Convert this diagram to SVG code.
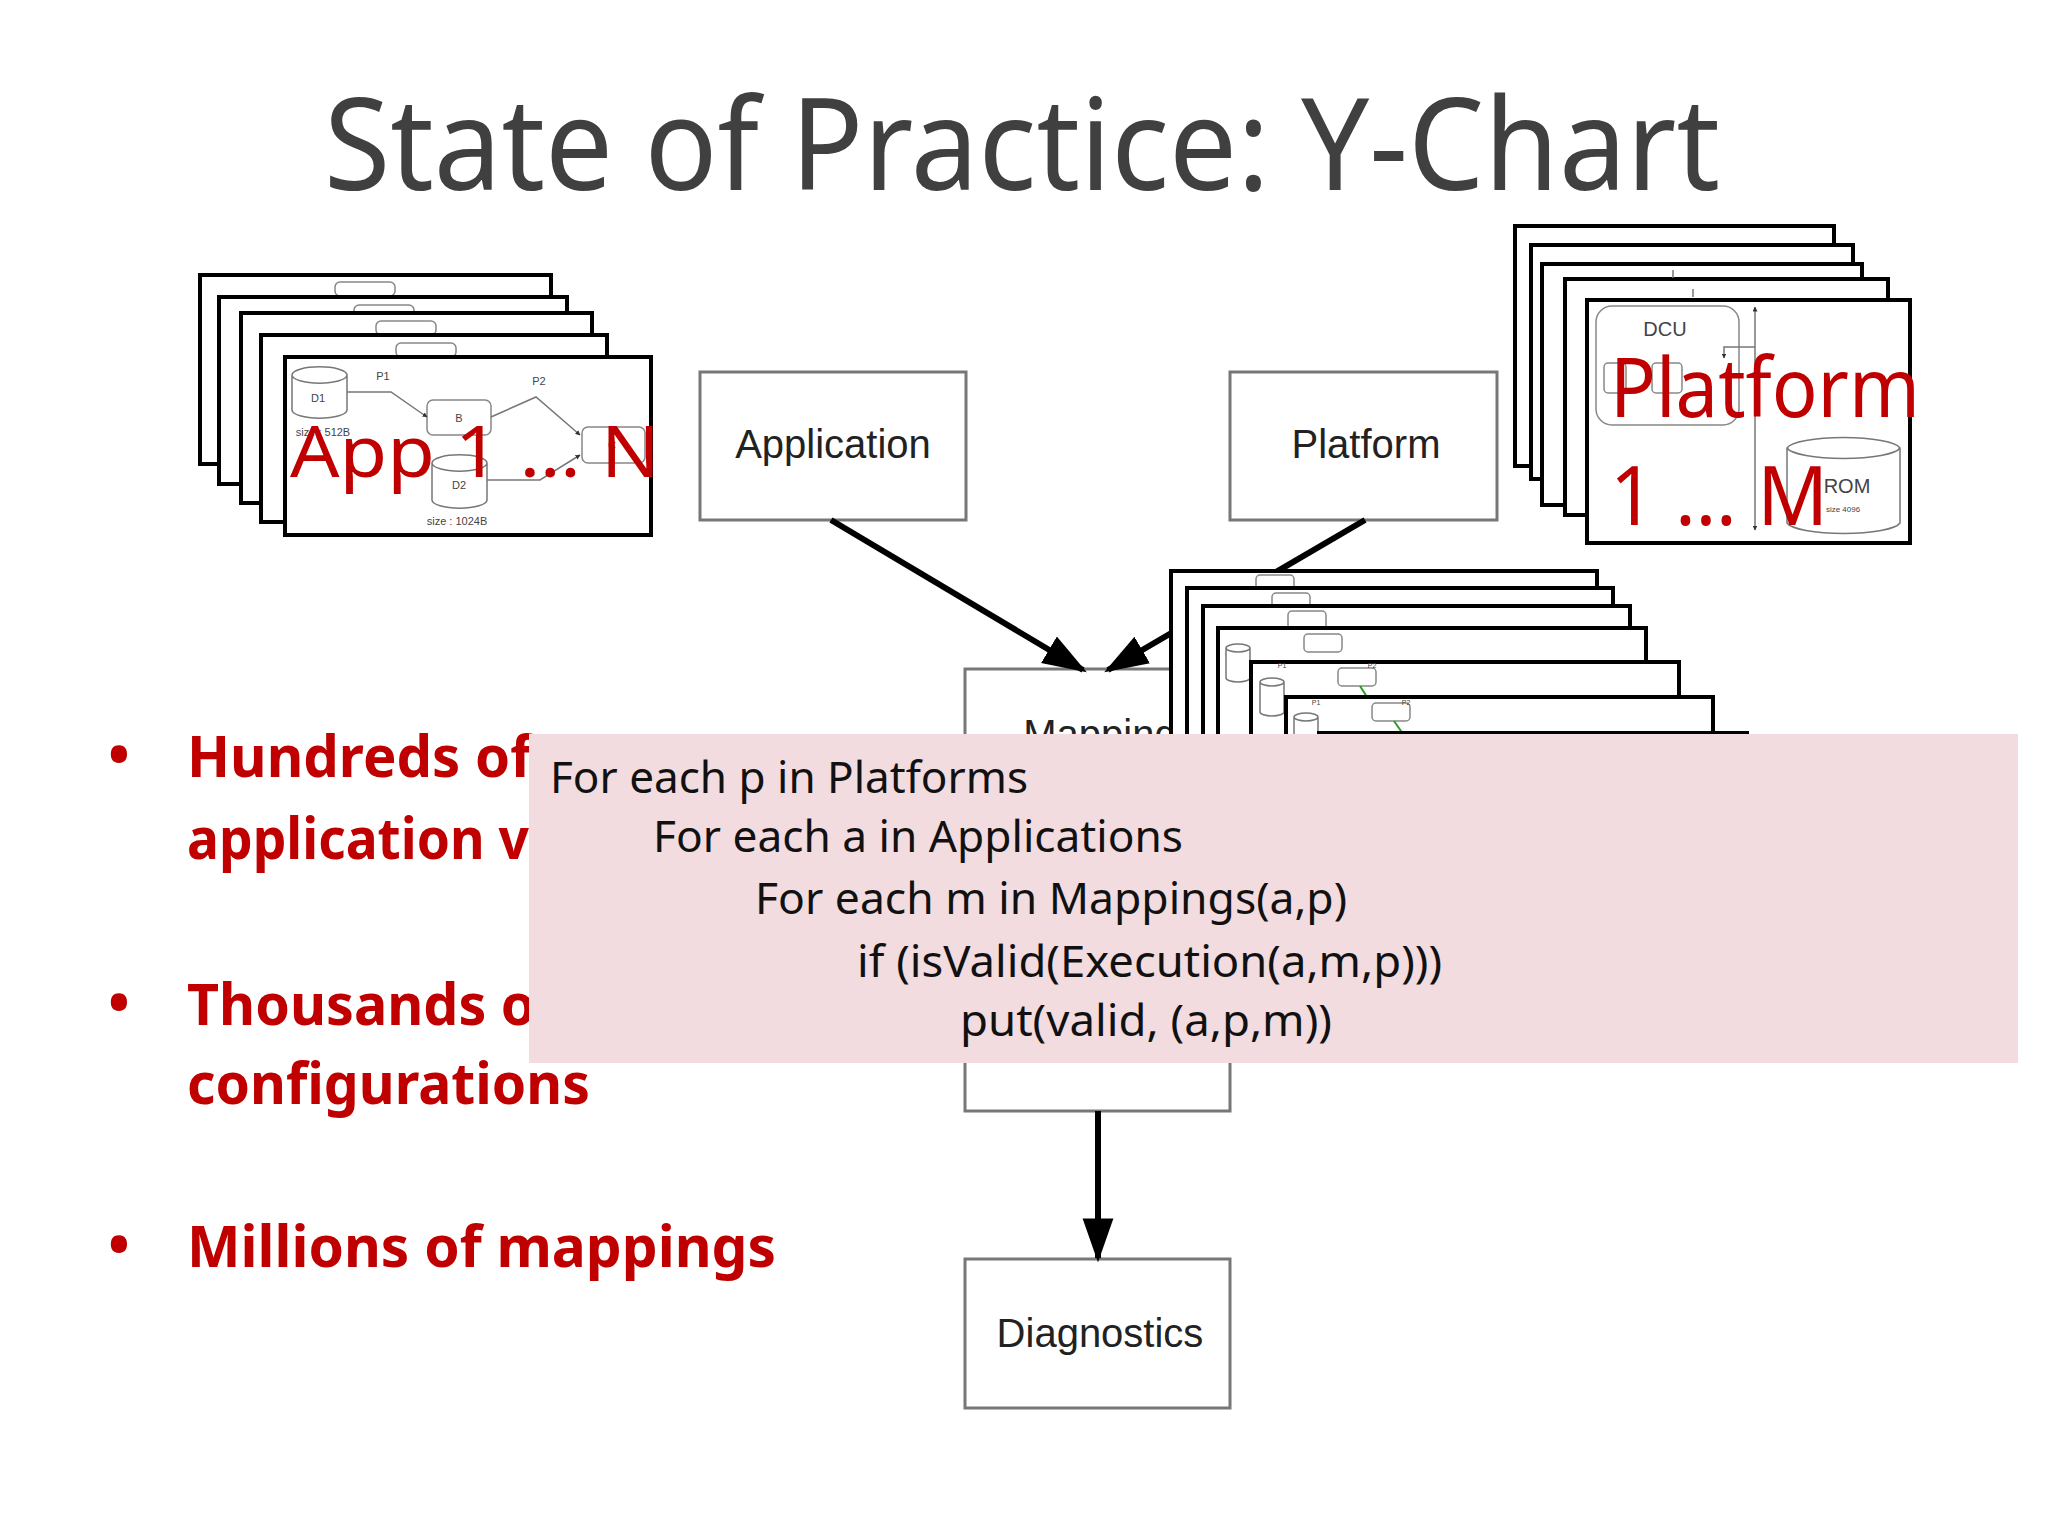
<svg xmlns="http://www.w3.org/2000/svg" width="2048" height="1536" viewBox="0 0 2048 1536">
<defs>
<style>
.card{fill:#fff;stroke:#000;stroke-width:4}
.box{fill:#fff;stroke:#777;stroke-width:3}
.thin{fill:#fff;stroke:#888;stroke-width:1.5}
.ln{fill:none;stroke:#777;stroke-width:1.5}
.lbl{font-family:"Liberation Sans",Arial,sans-serif;fill:#444;text-anchor:middle}
.red{font-family:"Noto Sans","Open Sans",sans-serif;fill:#c00000}
.bul{font-family:"Noto Sans","Open Sans",sans-serif;font-weight:bold;fill:#c00000;font-size:58px}
.code{font-family:"Noto Sans","Open Sans",sans-serif;fill:#111;font-size:44px}
.node{font-family:"Liberation Sans",Arial,sans-serif;font-size:40px;fill:#222;text-anchor:middle}
</style>
<marker id="ah" viewBox="0 0 10 10" refX="9" refY="5" markerWidth="5" markerHeight="5" orient="auto-start-reverse" markerUnits="userSpaceOnUse"><path d="M0,0L10,5L0,10z" fill="#333"/></marker>
<marker id="big" viewBox="0 0 10 10" refX="9" refY="5" markerWidth="44" markerHeight="44" orient="auto" markerUnits="userSpaceOnUse"><path d="M0,1.5L10,5L0,8.5z" fill="#000"/></marker>
</defs>
<rect width="2048" height="1536" fill="#fff"/>
<text x="1022" y="190" text-anchor="middle" font-family="Noto Sans,Open Sans,sans-serif" font-size="128" fill="#404040" textLength="1396" lengthAdjust="spacingAndGlyphs">State of Practice: Y-Chart</text>

<g id="app-stack">
<rect class="card" x="200" y="275" width="351" height="189"/>
<rect class="thin" x="335" y="282" width="60" height="14" rx="5"/>
<rect class="card" x="219" y="297" width="348" height="187"/>
<rect class="thin" x="354" y="305" width="60" height="14" rx="5"/>
<rect class="card" x="241" y="313" width="351" height="190"/>
<rect class="thin" x="376" y="321" width="60" height="14" rx="5"/>
<rect class="card" x="261" y="335" width="346" height="187"/>
<rect class="thin" x="396" y="343" width="60" height="14" rx="5"/>
<rect class="card" x="285" y="357" width="366" height="178"/>
<path class="ln" d="M292,375 v35 a27,8 0 0 0 55,0 v-35 a27,8 0 0 0 -55,0 a27,8 0 0 0 55,0"/>
<text class="lbl" x="318" y="402" font-size="11">D1</text>
<text class="lbl" x="323" y="436" font-size="11">size : 512B</text>
<rect class="thin" x="427" y="400" width="64" height="35" rx="6"/>
<text class="lbl" x="459" y="422" font-size="11">B</text>
<rect class="thin" x="582" y="427" width="63" height="36" rx="6"/>
<text class="lbl" x="612" y="449" font-size="11">C</text>
<path class="ln" d="M432,463 v37 a27,8 0 0 0 55,0 v-37 a27,8 0 0 0 -55,0 a27,8 0 0 0 55,0"/>
<text class="lbl" x="459" y="489" font-size="11">D2</text>
<text class="lbl" x="457" y="525" font-size="11">size : 1024B</text>
<text class="lbl" x="383" y="380" font-size="11">P1</text>
<text class="lbl" x="539" y="385" font-size="11">P2</text>
<path class="ln" d="M347,392H391L427,417" marker-end="url(#ah)"/>
<path class="ln" d="M491,417L536,397L580,435" marker-end="url(#ah)"/>
<path class="ln" d="M487,480H540L580,455" marker-end="url(#ah)"/>
<text class="red" x="290" y="477" font-size="72" textLength="370" lengthAdjust="spacingAndGlyphs">App 1 … N</text>
</g>

<g id="platform-stack">
<rect class="card" x="1515" y="226" width="319" height="240"/>
<rect class="card" x="1531" y="245" width="322" height="234"/>
<rect class="card" x="1542" y="264" width="320" height="241"/>
<rect class="card" x="1565" y="279" width="323" height="236"/>
<path class="ln" d="M1673,278v-8M1693,297v-8M1701,316v-8M1727,332v-8" marker-end="url(#ah)"/>
<rect class="card" x="1587" y="300" width="323" height="243"/>
<rect class="thin" x="1596" y="306" width="143" height="119" rx="16"/>
<text class="lbl" x="1665" y="336" font-size="20">DCU</text>
<rect class="thin" x="1604" y="363" width="22" height="30" rx="4"/>
<rect class="thin" x="1652" y="363" width="30" height="30" rx="4"/>
<path class="ln" d="M1755,307V530" marker-start="url(#ah)" marker-end="url(#ah)"/>
<path class="ln" d="M1755,347H1724V358" marker-end="url(#ah)"/>
<path class="ln" d="M1787,448v75 a57,12 0 0 0 113,0 v-75 a57,12 0 0 0 -113,0 a57,12 0 0 0 113,0"/>
<text class="lbl" x="1847" y="493" font-size="20">ROM</text>
<text class="lbl" x="1843" y="512" font-size="8">size 4096</text>
<text class="red" x="1610" y="417" font-size="82" textLength="310" lengthAdjust="spacingAndGlyphs">Platform</text>
<text class="red" x="1610" y="525" font-size="82" textLength="218" lengthAdjust="spacingAndGlyphs">1 … M</text>
</g>

<g id="application"><rect class="box" x="700" y="372" width="266" height="148"/><text class="node" x="833" y="458">Application</text></g>
<g id="platform"><rect class="box" x="1230" y="372" width="267" height="148"/><text class="node" x="1366" y="458">Platform</text></g>
<g id="mapping"><rect class="box" x="965" y="669" width="265" height="442"/><text class="node" x="1100" y="748">Mapping</text></g>
<g id="diagnostics"><rect class="box" x="965" y="1259" width="265" height="149"/><text class="node" x="1100" y="1347">Diagnostics</text></g>

<g id="connectors" stroke="#000" stroke-width="6" fill="none">
<path d="M831,520L1083,670" marker-end="url(#big)"/>
<path d="M1365,520L1108,670" marker-end="url(#big)"/>
<path d="M1098,1111V1258" marker-end="url(#big)"/>
</g>

<g id="mapping-stack">
<rect class="card" x="1171" y="571" width="426" height="480"/>
<rect class="thin" x="1256" y="575" width="38" height="18" rx="4"/>
<rect class="card" x="1187" y="588" width="426" height="470"/>
<rect class="thin" x="1272" y="593" width="38" height="18" rx="4"/>
<rect class="card" x="1203" y="606" width="427" height="450"/>
<rect class="thin" x="1288" y="611" width="38" height="18" rx="4"/>
<rect class="card" x="1218" y="628" width="428" height="420"/>
<rect class="thin" x="1304" y="634" width="38" height="18" rx="4"/>
<path class="ln" d="M1226,648v30a12,4 0 0 0 24,0v-30a12,4 0 0 0 -24,0a12,4 0 0 0 24,0"/>
<rect class="card" x="1251" y="662" width="428" height="390"/>
<rect class="thin" x="1338" y="668" width="38" height="18" rx="4"/>
<path class="ln" d="M1260,682v30a12,4 0 0 0 24,0v-30a12,4 0 0 0 -24,0a12,4 0 0 0 24,0"/>
<text class="lbl" x="1282" y="668" font-size="7">P1</text>
<text class="lbl" x="1372" y="668" font-size="7">P2</text>
<path d="M1360,686l14,22" stroke="#2a9a2a" stroke-width="2"/>
<rect class="card" x="1286" y="697" width="427" height="350"/>
<rect class="thin" x="1372" y="703" width="38" height="18" rx="4"/>
<path class="ln" d="M1294,717v30a12,4 0 0 0 24,0v-30a12,4 0 0 0 -24,0a12,4 0 0 0 24,0"/>
<text class="lbl" x="1316" y="705" font-size="7">P1</text>
<text class="lbl" x="1406" y="705" font-size="7">P2</text>
<path d="M1394,721l14,20" stroke="#2a9a2a" stroke-width="2"/>
<rect class="card" x="1319" y="733" width="428" height="310"/>
</g>

<g id="bullets">
<text class="bul" x="108" y="775">•</text>
<text class="bul" x="187" y="777" textLength="345" lengthAdjust="spacingAndGlyphs">Hundreds of</text>
<text class="bul" x="187" y="859" textLength="342" lengthAdjust="spacingAndGlyphs">application v</text>
<text class="bul" x="108" y="1023">•</text>
<text class="bul" x="187" y="1025" textLength="370" lengthAdjust="spacingAndGlyphs">Thousands of</text>
<text class="bul" x="187" y="1104" textLength="403" lengthAdjust="spacingAndGlyphs">configurations</text>
<text class="bul" x="108" y="1265">•</text>
<text class="bul" x="187" y="1267" textLength="589" lengthAdjust="spacingAndGlyphs">Millions of mappings</text>
</g>

<g id="overlay">
<rect x="529" y="734" width="1489" height="329" fill="#f2dcdf"/>
<text class="code" x="550" y="793" textLength="478" lengthAdjust="spacingAndGlyphs">For each p in Platforms</text>
<text class="code" x="653" y="852" textLength="530" lengthAdjust="spacingAndGlyphs">For each a in Applications</text>
<text class="code" x="755" y="914" textLength="592" lengthAdjust="spacingAndGlyphs">For each m in Mappings(a,p)</text>
<text class="code" x="857" y="977" textLength="585" lengthAdjust="spacingAndGlyphs">if (isValid(Execution(a,m,p)))</text>
<text class="code" x="960" y="1036" textLength="372" lengthAdjust="spacingAndGlyphs">put(valid, (a,p,m))</text>
</g>
</svg>
